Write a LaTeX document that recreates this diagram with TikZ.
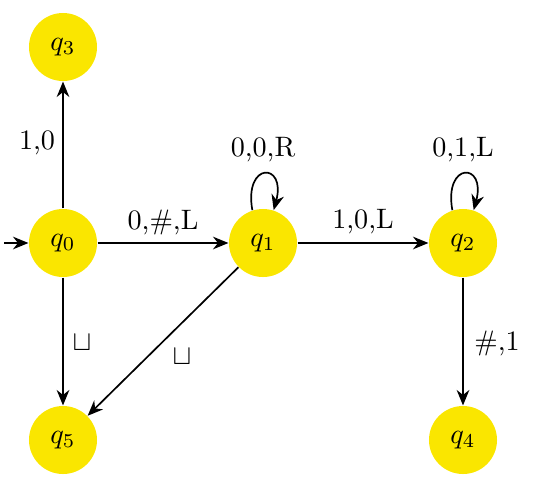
\documentclass[tikz,border=0pt]{standalone}
\usetikzlibrary{arrows.meta}
\definecolor{stateyellow}{RGB}{250,230,0}
\begin{document}
\begin{tikzpicture}[x=0.0125cm,y=-0.0125cm,
  state/.style={circle,fill=stateyellow,minimum size=0.85cm,inner sep=0pt},
  trans/.style={-{Stealth[length=5.5pt,width=4.5pt]},line width=0.6pt},
  lbl/.style={inner sep=1pt}]
  \useasboundingbox (0,0) rectangle (534,484);
  % states
  \node[state] (q3) at (63,47)  {$q_3$};
  \node[state] (q0) at (63,243) {$q_0$};
  \node[state] (q1) at (263,243) {$q_1$};
  \node[state] (q2) at (463,243) {$q_2$};
  \node[state] (q5) at (63,440) {$q_5$};
  \node[state] (q4) at (463,440) {$q_4$};
  \coordinate (start) at (4,243);
  % transitions
  \draw[trans] (start) -- (q0);
  \draw[trans] (q0) -- (q3);
  \draw[trans] (q0) -- (q1);
  \draw[trans] (q1) -- (q2);
  \draw[trans] (q0) -- (q5);
  \draw[trans] (q1) -- (q5);
  \draw[trans] (q2) -- (q4);
  \draw[trans] (q1.108) .. controls +(100:0.62cm) and +(75:0.62cm) .. (q1.72);
  \draw[trans] (q2.108) .. controls +(100:0.62cm) and +(75:0.62cm) .. (q2.72);
  % labels
  \node[lbl] (l03) at (37,143) {1,0};
  \node[lbl] (l01) at (163,222) {0,\#,L};
  \node[lbl] (l12) at (363,222) {1,0,L};
  \node[lbl] (l11) at (263,150) {0,0,R};
  \node[lbl] (l22) at (463,150) {0,1,L};
  \node[lbl] (l05) at (82,343) {$\sqcup$};
  \node[lbl] (l15) at (182,357) {$\sqcup$};
  \node[lbl] (l24) at (497,343) {\#,1};
\end{tikzpicture}
\end{document}
